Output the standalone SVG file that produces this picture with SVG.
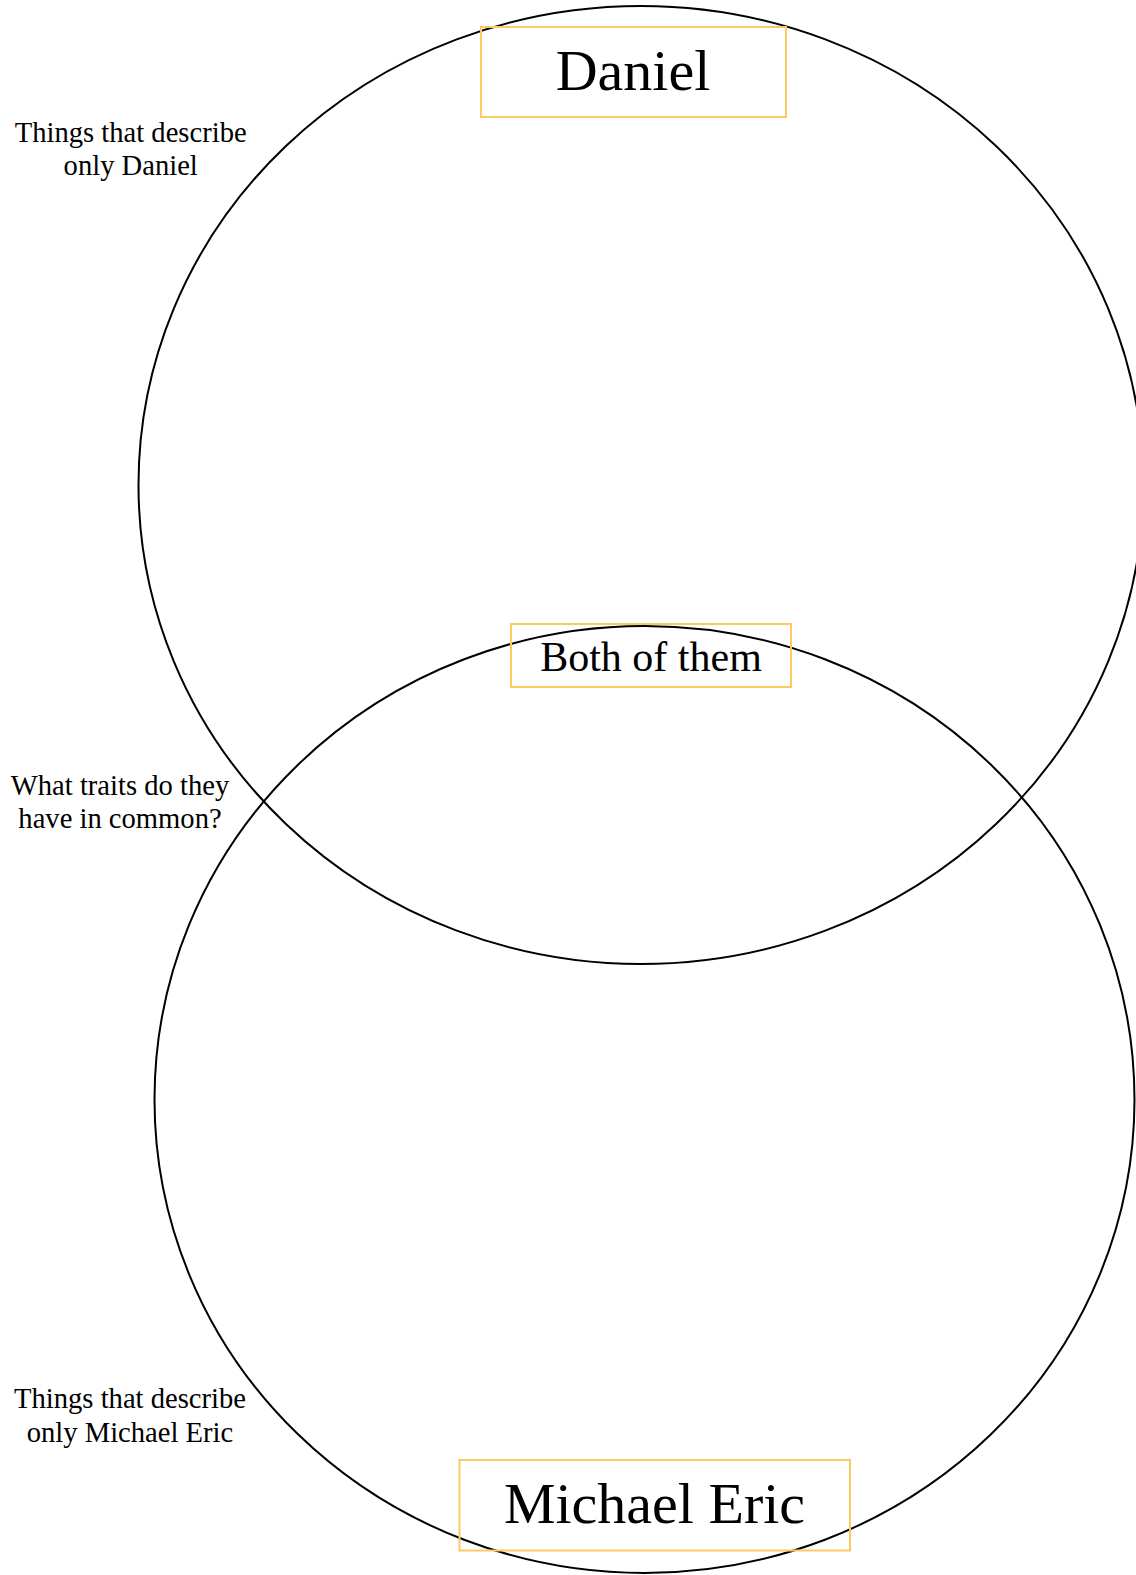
<svg xmlns="http://www.w3.org/2000/svg" width="1136" height="1575" viewBox="0 0 1136 1575">
<style>
.ring{fill:none;stroke:#000;stroke-width:2}
.box{fill:none;stroke:#FDC963;stroke-width:2}
.t{font-family:"Liberation Serif","Times New Roman",serif;fill:#000;text-anchor:middle}
.big{font-size:58px}
.mid{font-size:42px}
.sm{font-size:28.6px}
</style>
<rect width="1136" height="1575" fill="#fff"/>
<g id="circle-daniel"><ellipse class="ring" cx="641" cy="485" rx="502.5" ry="479"/></g>
<g id="circle-michael"><ellipse class="ring" cx="644.5" cy="1099.5" rx="490" ry="473.5"/></g>
<g id="label-daniel">
<rect class="box" x="481" y="27" width="305" height="90"/>
<text class="t big" x="633" y="90">Daniel</text>
</g>
<g id="label-both">
<rect class="box" x="511" y="624" width="280" height="63"/>
<text class="t mid" x="651" y="671">Both of them</text>
</g>
<g id="label-michael">
<rect class="box" x="459.5" y="1460" width="390.5" height="90.5"/>
<text class="t big" x="654.5" y="1522.5">Michael Eric</text>
</g>
<g id="note-daniel">
<text class="t sm" x="130.7" y="141.7">Things that describe</text>
<text class="t sm" x="130.7" y="175">only Daniel</text>
</g>
<g id="note-common">
<text class="t sm" x="120" y="795">What traits do they</text>
<text class="t sm" x="120" y="828.3">have in common?</text>
</g>
<g id="note-michael">
<text class="t sm" x="130" y="1408.3">Things that describe</text>
<text class="t sm" x="130" y="1441.7">only Michael Eric</text>
</g>
<g id="connectors"></g>
</svg>
